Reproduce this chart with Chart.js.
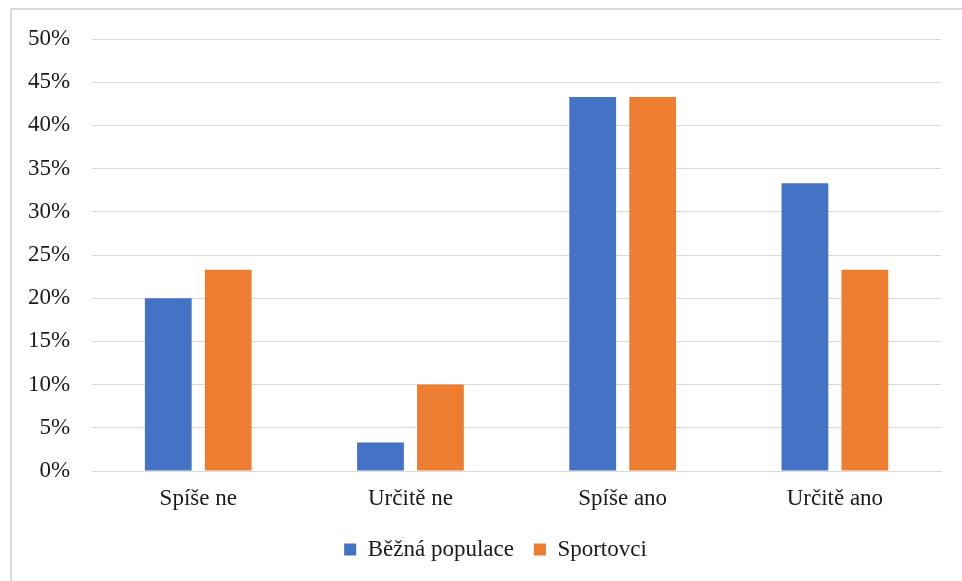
<!DOCTYPE html>
<html>
<head>
<meta charset="utf-8">
<script src="https://cdn.jsdelivr.net/npm/chart.js@4"></script>
<style>
  html, body { margin: 0; padding: 0; background: #fff; }
  .wrap { position: relative; width: 962px; height: 581px; }
</style>
</head>
<body>
<div class="wrap"><canvas id="chart"></canvas></div>
<script>
// Values (percent)
const categories = ["Spíše ne", "Určitě ne", "Spíše ano", "Určitě ano"];
const bezna = [20.0, 3.3, 43.3, 33.3];
const sportovci = [23.3, 10.0, 43.3, 23.3];
const seriesNames = ["Běžná populace", "Sportovci"];
const yTicksMax = 50;
const yStep = 5;

const FONT = "'Liberation Serif', 'Times New Roman', serif";
const GRID = "#d9d9d9";

// light grey frame round the chart, as in the source document
const frame = {
  id: "frame",
  beforeDraw(chart) {
    const c = chart.ctx;
    c.save();
    c.strokeStyle = "#d9d9d9";
    c.lineWidth = 2;
    c.strokeRect(11, 9, chart.width + 20, chart.height + 20);
    c.restore();
  },
};

// the original frame runs past the right edge, so its legend sits a bit right of centre
const legendNudge = {
  id: "legendNudge",
  afterLayout(chart) {
    if (!chart.legend) return;
    chart.legend.left += 22;
    chart.legend.right += 22;
  },
};

new Chart(document.getElementById("chart"), {
  type: "bar",
  data: {
    labels: categories,
    datasets: [
      { label: seriesNames[0], data: bezna, backgroundColor: "#4472c4" },
      { label: seriesNames[1], data: sportovci, backgroundColor: "#ed7d31" },
    ],
  },
  options: {
    responsive: true,
    maintainAspectRatio: false,
    animation: false,
    categoryPercentage: 0.565,
    barPercentage: 0.78,
    layout: { padding: { left: 6, right: 21, top: 39, bottom: 10 } },
    plugins: {
      tooltip: { enabled: false },
      legend: {
        position: "bottom",
        labels: {
          color: "#1a1a1a",
          font: { family: FONT, size: 23 },
          boxWidth: 12,
          boxHeight: 12,
          padding: 20,
        },
      },
    },
    scales: {
      x: {
        grid: { display: false },
        border: { display: true, color: GRID, width: 1 },
        ticks: { color: "#1a1a1a", font: { family: FONT, size: 23, lineHeight: 1.0 }, padding: 8 },
      },
      y: {
        min: 0,
        max: yTicksMax,
        ticks: {
          stepSize: yStep,
          color: "#1a1a1a",
          font: { family: FONT, size: 23 },
          padding: 22,
          callback: (v) => v + "%",
        },
        grid: { color: GRID, drawTicks: false },
        border: { display: false },
      },
    },
  },
  plugins: [frame, legendNudge],
});
</script>
</body>
</html>
